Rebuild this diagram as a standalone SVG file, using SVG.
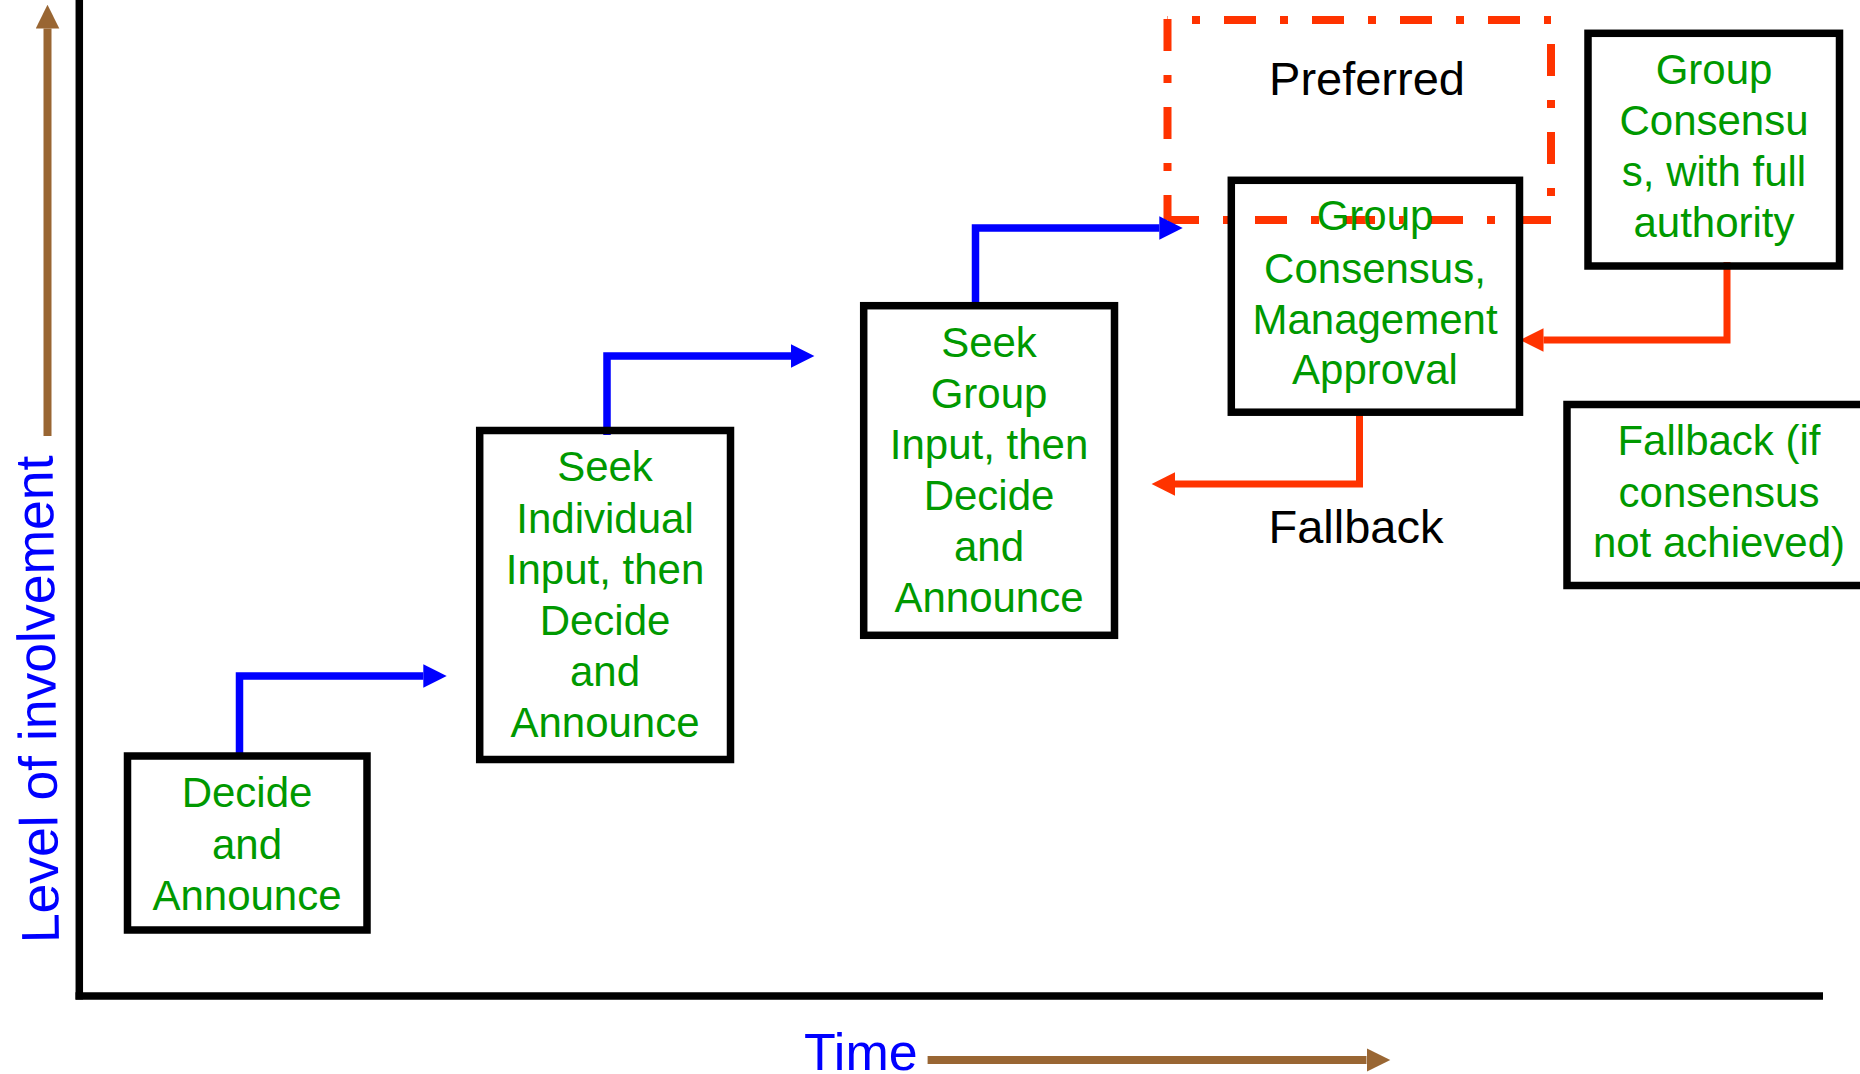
<svg xmlns="http://www.w3.org/2000/svg" width="1860" height="1074" viewBox="0 0 1860 1074">
<style>
.box{fill:none;stroke:#000;stroke-width:7.5}
.lbl{font-family:"Liberation Sans",Arial,sans-serif;font-size:42px;fill:#009900;text-anchor:middle}
.cap{font-family:"Liberation Sans",Arial,sans-serif;font-size:47px;fill:#000;text-anchor:middle}
.axt{font-family:"Liberation Sans",Arial,sans-serif;fill:#0000FF}
.blue{fill:none;stroke:#0000FF;stroke-width:7.5;marker-end:url(#ab)}
.red{fill:none;stroke:#FF3300;stroke-width:7;marker-end:url(#ar)}
.brown{fill:none;stroke:#996633;stroke-width:8;marker-end:url(#an)}
.dash{fill:none;stroke:#FF3300;stroke-width:8;stroke-dasharray:32 24 8 24}
.axis{stroke:#000;stroke-width:7.5}
</style>
<defs>
<marker id="ab" markerUnits="userSpaceOnUse" viewBox="0 0 24 24" markerWidth="24" markerHeight="24" refX="0" refY="12" orient="auto"><path d="M0,0.3 L23.4,12 L0,23.7 z" fill="#0000FF"/></marker>
<marker id="ar" markerUnits="userSpaceOnUse" viewBox="0 0 24 24" markerWidth="24" markerHeight="24" refX="0" refY="12" orient="auto"><path d="M0,0.3 L23.4,12 L0,23.7 z" fill="#FF3300"/></marker>
<marker id="an" markerUnits="userSpaceOnUse" viewBox="0 0 24 24" markerWidth="24" markerHeight="24" refX="0" refY="12" orient="auto"><path d="M0,0.2 L23.8,12 L0,23.8 z" fill="#996633"/></marker>
</defs>
<rect width="1860" height="1074" fill="#fff"/>

<g id="axes">
<line class="axis" x1="79.3" y1="0" x2="79.3" y2="999.5"/>
<line class="axis" x1="75.5" y1="996" x2="1823" y2="996"/>
<text class="axt" font-size="53.5" transform="translate(59,943) rotate(-90.77)">Level of involvement</text>
<text class="axt" font-size="52" x="804" y="1070">Time</text>
</g>

<g id="preferred">
<line class="dash" x1="1167.5" y1="20" x2="1551" y2="20" stroke-dashoffset="31.5"/>
<line class="dash" x1="1551" y1="20" x2="1551" y2="220" stroke-dashoffset="64"/>
<line class="dash" x1="1551" y1="220" x2="1167.5" y2="220"/>
<line class="dash" x1="1167.5" y1="220" x2="1167.5" y2="16" stroke-dashoffset="7"/>
<text class="cap" x="1367" y="95">Preferred</text>
</g>

<g id="connectors">
<path class="brown" d="M47.5,436 V28.5"/>
<path class="brown" d="M927.6,1060 H1366.5"/>
<path class="blue" d="M239.5,756 V676 H423.3"/>
<path class="blue" d="M607,435 V356 H791"/>
<path class="blue" d="M975.5,306 V228 H1159.3"/>
<path class="red" d="M1727,262 V340 H1543.5"/>
<path class="red" d="M1359.5,412 V484 H1175"/>
<text class="cap" x="1356" y="543">Fallback</text>
</g>

<g id="n1">
<rect class="box" x="127.5" y="756" width="239.5" height="174"/>
<text class="lbl"><tspan x="247" y="807">Decide</tspan><tspan x="247" y="858.5">and</tspan><tspan x="247" y="910">Announce</tspan></text>
</g>

<g id="n2">
<rect class="box" x="479.7" y="430.5" width="250.8" height="329"/>
<text class="lbl"><tspan x="605" y="481">Seek</tspan><tspan x="605" y="532.5">Individual</tspan><tspan x="605" y="584">Input, then</tspan><tspan x="605" y="635">Decide</tspan><tspan x="605" y="686">and</tspan><tspan x="605" y="737">Announce</tspan></text>
</g>

<g id="n3">
<rect class="box" x="863.7" y="305.7" width="250.8" height="329.6"/>
<text class="lbl"><tspan x="989" y="357">Seek</tspan><tspan x="989" y="407.5">Group</tspan><tspan x="989" y="458.5">Input, then</tspan><tspan x="989" y="509.5">Decide</tspan><tspan x="989" y="561">and</tspan><tspan x="989" y="612">Announce</tspan></text>
</g>

<g id="n4">
<rect class="box" x="1231.3" y="180.3" width="288.2" height="231.9"/>
<text class="lbl"><tspan x="1375" y="230">Group</tspan><tspan x="1375" y="283">Consensus,</tspan><tspan x="1375" y="333.5">Management</tspan><tspan x="1375" y="384">Approval</tspan></text>
</g>

<g id="n5">
<rect class="box" x="1588" y="33.3" width="251.5" height="232.7"/>
<text class="lbl"><tspan x="1714" y="83.5">Group</tspan><tspan x="1714" y="135">Consensu</tspan><tspan x="1714" y="186">s, with full</tspan><tspan x="1714" y="236.7">authority</tspan></text>
</g>

<g id="n6">
<rect class="box" x="1567" y="404.5" width="310" height="181"/>
<text class="lbl"><tspan x="1719" y="455">Fallback (if</tspan><tspan x="1719" y="506.7">consensus</tspan><tspan x="1719" y="556.7">not achieved)</tspan></text>
</g>
</svg>
